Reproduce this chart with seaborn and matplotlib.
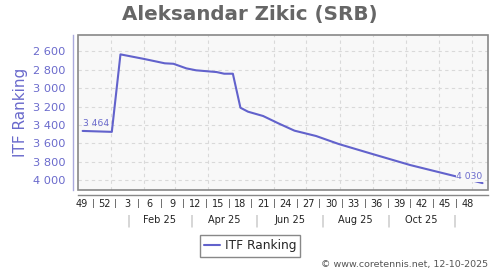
import matplotlib
matplotlib.use("Agg")
import matplotlib.pyplot as plt
import seaborn as sns
import pandas as pd
import datetime as dt
from matplotlib.patches import Rectangle

# ---------------- data ----------------
dates = ["2024-12-06", "2025-01-02", "2025-01-10", "2025-02-01", "2025-02-20",
         "2025-02-28", "2025-03-12", "2025-03-21", "2025-04-01", "2025-04-09",
         "2025-04-16", "2025-04-24", "2025-05-01", "2025-05-08", "2025-05-22",
         "2025-06-05", "2025-06-20", "2025-07-10", "2025-07-31", "2025-08-29",
         "2025-10-05", "2025-11-15", "2025-12-11"]
ranks = [3464, 3474, 2633, 2683, 2730, 2735, 2785, 2806, 2817, 2825, 2843, 2843,
         3212, 3255, 3302, 3381, 3461, 3519, 3606, 3707, 3834, 3953, 4030]

y_ticks = [2600, 2800, 3000, 3200, 3400, 3600, 3800, 4000]
week_years = [2024, 2024] + [2025] * 16
week_nums = [49, 52, 3, 6, 9, 12, 15, 18, 21, 24, 27, 30, 33, 36, 39, 42, 45, 48]
month_labels = ["Feb 25", "Apr 25", "Jun 25", "Aug 25", "Oct 25"]
month_seps = ["2025-01-17", "2025-03-17", "2025-05-16", "2025-07-16",
              "2025-09-15", "2025-11-15"]
month_starts = pd.date_range("2025-01-01", "2025-12-01", freq="MS")

title = "Aleksandar Zikic (SRB)"
series_name = "ITF Ranking"
credit = "\u00a9 www.coretennis.net, 12-10-2025"

# ---------------- style ----------------
sns.set_style("white")
plt.rcParams["font.family"] = ["DejaVu Sans"]

LINE = "#6262cc"
LABEL = "#6a6acc"
SPINE_Y = "#aaaadd"
GRID = "#d9d9d9"

def fmt(v):
    return f"{v:,}".replace(",", " ")

df = pd.DataFrame({"date": pd.to_datetime(dates), "rank": ranks})

fig = plt.figure(figsize=(5, 2.7), dpi=100)
L, R, T, B = 78, 487.7, 35.3, 190
ax = fig.add_axes([L / 500, 1 - B / 270, (R - L) / 500, (B - T) / 270])
ax.set_facecolor("#f8f8f8")

sns.lineplot(data=df, x="date", y="rank", ax=ax, color=LINE, lw=1.5,
             label=series_name, legend=False, zorder=3)

ax.set_xlim(pd.Timestamp("2024-12-01 17:00"), pd.Timestamp("2025-12-15 19:00"))
ax.set_ylim(4105, 2426)
ax.set_xlabel("")
ax.set_ylabel("")

# y axis
ax.set_yticks(y_ticks)
ax.set_yticklabels([fmt(v) for v in y_ticks])
ax.tick_params(axis="y", colors=SPINE_Y, labelcolor=LABEL, length=2.2,
               width=0.8, labelsize=8.2, pad=3)
ax.spines["left"].set_position(("outward", 3.6))
ax.spines["left"].set_color(SPINE_Y)
ax.spines["left"].set_linewidth(1)

# x axis: week labels as major ticks, month starts as grid
week_pos = [pd.Timestamp(dt.date.fromisocalendar(y, w, 4))
            for y, w in zip(week_years, week_nums)]
ax.set_xticks(week_pos)
ax.set_xticklabels([str(w) for w in week_nums])
ax.set_xticks(month_starts, minor=True)
ax.tick_params(axis="x", which="both", length=0, labelsize=7,
               labelcolor="#222222", pad=3.2)
ax.spines["bottom"].set_position(("outward", 3.4))
ax.spines["bottom"].set_color("#888888")
ax.spines["bottom"].set_linewidth(1)
ax.spines["top"].set_visible(False)
ax.spines["right"].set_visible(False)

ax.grid(False)
ax.xaxis.grid(True, which="minor", color=GRID, lw=0.8, ls=(0, (3, 3)))
ax.yaxis.grid(True, which="major", color=GRID, lw=0.8, ls=(0, (3, 3)))
ax.set_axisbelow(True)

ax.add_patch(Rectangle((0, 0), 1, 1, transform=ax.transAxes, fill=False,
                       ec="#888888", lw=1.2, clip_on=False, zorder=5))

xt = ax.get_xaxis_transform()
# separators between week labels
for a, b in zip(week_pos[:-1], week_pos[1:]):
    ax.text(a + (b - a) / 2, -0.088, "|", transform=xt, ha="center",
            va="center", fontsize=6.5, color="#444444", clip_on=False)
# month row
seps = pd.to_datetime(month_seps)
for s in seps:
    ax.text(s, -0.2, "|", transform=xt, ha="center", va="center",
            fontsize=8.6, color="#b0b0b0", clip_on=False)
for lab, a, b in zip(month_labels, seps[:-1], seps[1:]):
    ax.text(a + (b - a) / 2, -0.194, lab, transform=xt, ha="center",
            va="center", fontsize=7, color="#222222", clip_on=False)

# first and last value labels
ax.annotate(fmt(ranks[0]), xy=(df["date"].iloc[0], ranks[0]), xytext=(0, 3.4),
            textcoords="offset points", ha="left", va="baseline",
            fontsize=6.6, color=LABEL, zorder=6)
ax.annotate(fmt(ranks[-1]), xy=(df["date"].iloc[-1], ranks[-1]), xytext=(0, 2.7),
            textcoords="offset points", ha="right", va="baseline",
            fontsize=6.6, color=LABEL, zorder=6,
            bbox=dict(boxstyle="square,pad=0.05", fc="#f8f8f8", ec="none"))

# texts
fig.text(0.5, 1 - 14.5 / 270, title, ha="center", va="center",
         fontsize=14.3, fontweight="bold", color="#666666")
fig.text(21 / 500, 1 - 112.5 / 270, series_name, rotation=90, ha="center",
         va="center", fontsize=11, color=LABEL)
fig.text(488.3 / 500, 1 - 264 / 270, credit, ha="right", va="center",
         fontsize=6.8, color="#555555")

handles, labels = ax.get_legend_handles_labels()
fig.legend(handles, labels, loc="center", bbox_to_anchor=(0.5, 1 - 245.8 / 270),
           bbox_transform=fig.transFigure, fontsize=8.7, frameon=True,
           fancybox=False, edgecolor="#888888", framealpha=1, handlelength=1.3,
           handletextpad=0.4, borderpad=0.35, borderaxespad=0)

fig.savefig("out.png", dpi=100)
